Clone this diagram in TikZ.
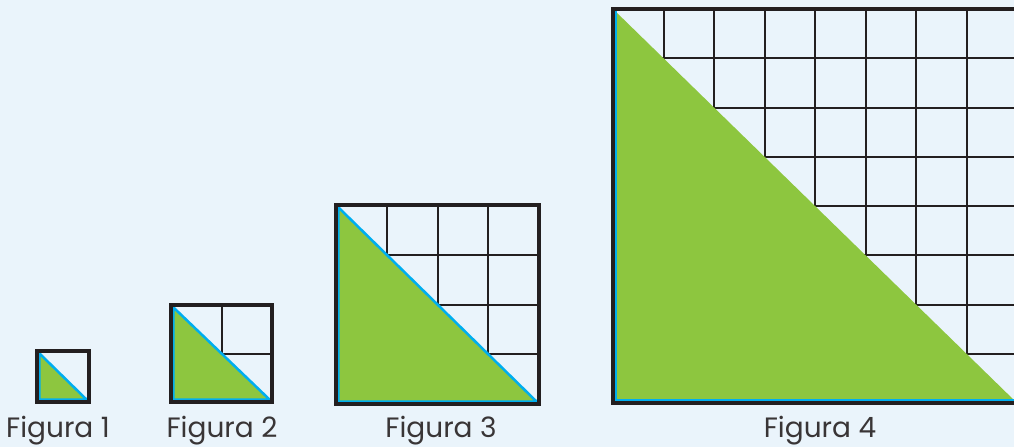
\documentclass[tikz,border=0pt]{standalone}
\usepackage{fontspec}
\setsansfont{Poppins}
\usetikzlibrary{positioning}

\definecolor{paleblue}{HTML}{EAF4FB}
\definecolor{leafgreen}{HTML}{8DC63F}
\definecolor{rimblue}{HTML}{00AEEF}
\definecolor{inkblack}{HTML}{231F20}

\tikzset{
  gridline/.style={inkblack, line width=1.5pt},
  frameline/.style={inkblack, line width=2.3pt},
  halfarea/.style={fill=leafgreen},
  bluerim/.style={rimblue, line width=1.9pt, line join=miter},
  figlabel/.style={anchor=base, text=inkblack!90,
    font=\sffamily\fontsize{21}{24}\selectfont}
}

\begin{document}
\begin{tikzpicture}[x=0.75pt, y=-0.75pt]
    \useasboundingbox (0,0) rectangle (1014,447);
    \fill[paleblue] (0,0) rectangle (1014,447);

    % Figuras 1 a 3: left/top/right/bottom, cells per side
    \foreach \xa/\ya/\xb/\yb/\n in {37/351/89/402/1, 171/305/272/402/2, 336/205/539/404/4}{
        % grid
        \foreach \i in {1,...,\n}{
            \draw[gridline] ({\xa+(\xb-\xa)*\i/\n},\ya) -- ({\xa+(\xb-\xa)*\i/\n},\yb);
            \draw[gridline] (\xa,{\ya+(\yb-\ya)*\i/\n}) -- (\xb,{\ya+(\yb-\ya)*\i/\n});
        }
        % shaded half
        \fill[halfarea] (\xa,\ya) -- (\xa,\yb) -- (\xb,\yb) -- cycle;
        \draw[bluerim] (\xa+2.4,\ya+2.4) -- (\xa+2.4,\yb-2.4) -- (\xb-2.4,\yb-2.4) -- cycle;
        \draw[frameline] (\xa,\ya) rectangle (\xb,\yb);
    }

    % Figura 4 (runs past the right edge)
    \foreach \i in {1,...,8}{
        \draw[gridline] ({613+404*\i/8},9) -- ({613+404*\i/8},403);
        \draw[gridline] (613,{9+394*\i/8}) -- (1017,{9+394*\i/8});
    }
    \fill[halfarea] (613,9) -- (613,403) -- (1017,403) -- cycle;
    \draw[bluerim] (615.4,9) -- (615.4,400.6) -- (1017,400.6);
    \draw[frameline] (613,9) rectangle (1017,403);

    % labels
    \node[figlabel] (fig1) at (58,437) {Figura 1};
    \node[figlabel] (fig2) at (222,437) {Figura 2};
    \node[figlabel] (fig3) at (441,437) {Figura 3};
    \node[figlabel] (fig4) at (820,437) {Figura 4};
\end{tikzpicture}
\end{document}
